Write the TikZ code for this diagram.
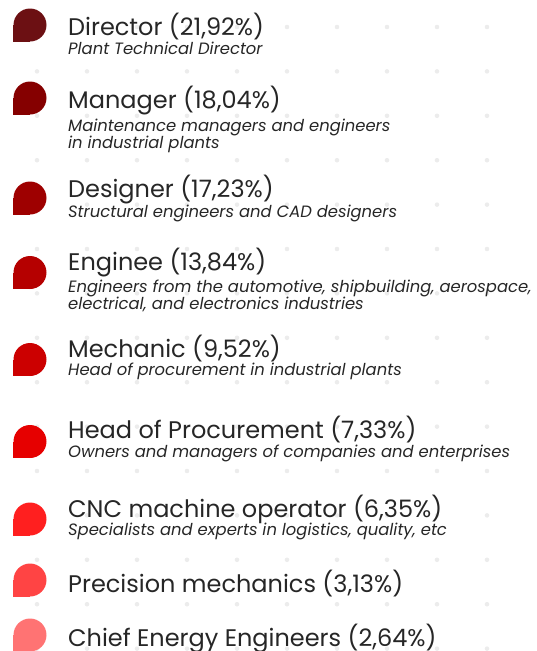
\documentclass[tikz,border=0pt]{standalone}
\usepackage{fontspec}
\setmainfont{Poppins}

\definecolor{ink}{HTML}{262626}
\definecolor{dotgray}{HTML}{ECECEC}
\definecolor{redA}{HTML}{6C1013}
\definecolor{redB}{HTML}{850000}
\definecolor{redC}{HTML}{9E0000}
\definecolor{redD}{HTML}{B50000}
\definecolor{redE}{HTML}{CC0000}
\definecolor{redF}{HTML}{E60000}
\definecolor{redG}{HTML}{FF1F1F}
\definecolor{redH}{HTML}{FF4444}
\definecolor{redI}{HTML}{FF7373}

\tikzset{
	marker/.style={circle, minimum size=33pt, inner sep=0pt, draw=none},
	headline/.style={anchor=base west, inner sep=0pt, text=ink, font=\fontsize{24}{28}\selectfont},
	descline/.style={anchor=base west, inner sep=0pt, text=ink, align=left, font=\fontsize{16.4}{17}\selectfont\itshape},
}

\begin{document}
\begin{tikzpicture}[x=1pt,y=-1pt]
				\useasboundingbox (0,0) rectangle (536,651);

				% background dots
				\foreach \row in {0,...,14}
				\foreach \col in {0,...,9}
				\fill[dotgray] (37+50*\col,27+44.4*\row) circle (2.3);

				% drop markers
				\foreach \n/\y/\c in {1/25/redA,2/98/redB,3/198/redC,4/272.5/redD,5/359.5/redE,6/441.5/redF,7/519/redG,8/580/redH,9/635/redI}
				{
					\node[marker, fill=\c] (mark\n) at (30,\y) {};
					\fill[\c] (mark\n.west) rectangle (mark\n.south);
				}

				\node[headline] (head1) at (68,35) {Director (21,92\%)};
				\node[descline] (desc1) at (68,54) {Plant Technical Director};

				\node[headline] (head2) at (68,108) {Manager (18,04\%)};
				\node[descline] (desc2) at (68,148) {Maintenance managers and engineers\\in industrial plants};

				\node[headline] (head3) at (68,197) {Designer (17,23\%)};
				\node[descline] (desc3) at (68,217) {Structural engineers and CAD designers};

				\node[headline] (head4) at (68,270) {Enginee (13,84\%)};
				\node[descline] (desc4) at (68,309) {Engineers from the automotive, shipbuilding, aerospace,\\electrical, and electronics industries};

				\node[headline] (head5) at (68,357) {Mechanic (9,52\%)};
				\node[descline] (desc5) at (68,375) {Head of procurement in industrial plants};

				\node[headline] (head6) at (68,438) {Head of Procurement (7,33\%)};
				\node[descline] (desc6) at (68,457) {Owners and managers of companies and enterprises};

				\node[headline] (head7) at (68,517) {CNC machine operator (6,35\%)};
				\node[descline] (desc7) at (68,535) {Specialists and experts in logistics, quality, etc};

				\node[headline] (head8) at (68,592) {Precision mechanics (3,13\%)};

				\node[headline] (head9) at (68,646) {Chief Energy Engineers (2,64\%)};
\end{tikzpicture}
\end{document}
